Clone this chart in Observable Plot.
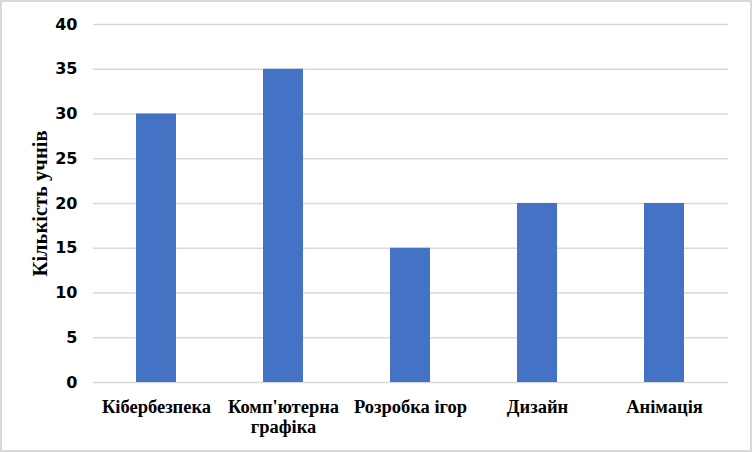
<!DOCTYPE html>
<html>
<head>
<meta charset="utf-8">
<script src="https://cdn.jsdelivr.net/npm/d3@7"></script>
<script src="https://cdn.jsdelivr.net/npm/@observablehq/plot@0.6"></script>
<style>
  html, body { margin: 0; padding: 0; background: #fff; }
  #chart svg { display: block; outline: 2px solid #d9d9d9; outline-offset: -2px; }
</style>
</head>
<body>
<div id="chart"></div>
<script>
const categories = ["Кібербезпека", "Комп'ютерна графіка", "Розробка ігор", "Дизайн", "Анімація"];
const tickLabels = ["Кібербезпека", "Комп'ютерна\nграфіка", "Розробка ігор", "Дизайн", "Анімація"];
const values = [30, 35, 15, 20, 20];
const yTicks = [0, 5, 10, 15, 20, 25, 30, 35, 40];
const yTitle = "Кількість учнів";

const data = categories.map((c, i) => ({category: c, value: values[i]}));

const chart = Plot.plot({
  width: 752,
  height: 452,
  marginLeft: 93,
  marginRight: 24,
  marginTop: 24,
  marginBottom: 70,
  style: {background: "#fff"},
  x: {domain: categories, paddingInner: 0.685, paddingOuter: 0.3425},
  y: {domain: [0, 40]},
  marks: [
    Plot.ruleY(yTicks, {stroke: "#d9d9d9", strokeWidth: 1.5}),
    Plot.barY(data, {x: "category", y: "value", fill: "#4472c4"}),
    Plot.axisY(yTicks, {
      tickSize: 0, tickPadding: 16, label: null,
      fontFamily: "DejaVu Sans", fontWeight: "bold", fontSize: 16, fill: "#000"
    }),
    Plot.axisY({
      ticks: [], label: yTitle, labelAnchor: "center", labelArrow: "none", labelOffset: 61,
      fontFamily: "Liberation Serif", fontWeight: "bold", fontSize: 20.5, fill: "#000"
    }),
    Plot.axisX({
      tickSize: 0, tickPadding: 16, label: null,
      tickFormat: (d) => tickLabels[categories.indexOf(d)],
      lineHeight: 1.1,
      fontFamily: "Liberation Serif", fontWeight: "bold", fontSize: 18.5, fill: "#000"
    })
  ]
});
document.getElementById("chart").appendChild(chart);
</script>
</body>
</html>
